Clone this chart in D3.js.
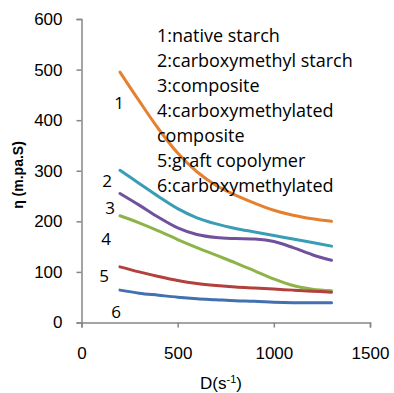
<!DOCTYPE html>
<html><head><meta charset="utf-8">
<script src="https://cdn.jsdelivr.net/npm/d3@7"></script>
<style>body{margin:0;background:#fff}svg{display:block}</style>
</head><body>
<svg id="c" width="394" height="393"></svg>
<script>
const shearRate = [200, 300, 400, 500, 600, 700, 800, 900, 1000, 1100, 1200, 1300];
const s1 = [495, 438, 383, 335, 298, 271, 252, 236, 222, 212, 205, 200];
const s2 = [301, 275, 249, 225, 207, 195, 186, 179, 172, 165, 158, 151];
const s3 = [255, 232, 208, 187, 174, 168, 166, 165, 160, 148, 134, 123];
const s4 = [211, 197, 181, 164, 148, 133, 118, 102, 86, 73, 66, 63];
const s5 = [110, 100, 91, 83, 77, 73, 70, 68, 66, 64, 62, 60];
const s6 = [64, 58, 54, 50, 47, 45, 43, 42, 40, 39, 39, 39];
const seriesNames = ["1","2","3","4","5","6"];
const legendLines = ["1:native starch","2:carboxymethyl  starch","3:composite","4:carboxymethylated","composite","5:graft copolymer","6:carboxymethylated"];
const xTicks = [0, 500, 1000, 1500];
const yTicks = [0, 100, 200, 300, 400, 500, 600];
const colors = ["#E5802E","#3A9DB6","#71519C","#8DB449","#B2403D","#4270B0"];

const svg = d3.select("#c");
const x = d3.scaleLinear().domain([0,1500]).range([81.5,370]);
const y = d3.scaleLinear().domain([0,600]).range([322.5,19]);
const axisColor = "#868686";

const gx = svg.append("g").attr("transform","translate(0,322.5)")
  .call(d3.axisBottom(x).tickValues(xTicks).tickSize(5).tickPadding(19).tickFormat(d3.format("d")));
const gy = svg.append("g").attr("transform","translate(81.5,0)")
  .call(d3.axisLeft(y).tickValues(yTicks).tickSize(5).tickPadding(14).tickFormat(d3.format("d")));
[gx,gy].forEach(g=>{
  g.select(".domain").attr("stroke",axisColor).attr("stroke-width",1.5);
  g.selectAll(".tick line").attr("stroke",axisColor).attr("stroke-width",1.5);
  g.selectAll("text").attr("font-family","'Liberation Sans',Arial,sans-serif").attr("font-size",17).attr("fill","#000");
});

const all = [s1,s2,s3,s4,s5,s6];
const line = d3.line().x((d,i)=>x(shearRate[i])).y(d=>y(d)).curve(d3.curveCatmullRom.alpha(0.5));
all.forEach((s,k)=>{
  svg.append("path").attr("d",line(s)).attr("fill","none")
    .attr("stroke",colors[k]).attr("stroke-width",3).attr("stroke-linecap","round");
});

// curve number labels
const numPos = [[119,103],[107,181],[110,208],[106,239],[104,276],[116,312]];
seriesNames.forEach((n,i)=>{
  svg.append("text").attr("x",numPos[i][0]).attr("y",numPos[i][1]).attr("dy","0.35em")
    .attr("text-anchor","middle").attr("font-family","'Open Sans',sans-serif")
    .attr("font-size",17).text(n);
});

// legend text
legendLines.forEach((t,i)=>{
  svg.append("text").attr("x",157).attr("y",41.7+i*25.05)
    .attr("font-family","'Open Sans',sans-serif").attr("font-size",18)
    .attr("fill","#000").text(t);
});

// axis titles
svg.append("text").attr("transform","translate(23,175) rotate(-90)")
  .attr("text-anchor","middle").attr("font-family","'Liberation Sans',Arial,sans-serif")
  .attr("font-weight","bold").attr("font-size",14).text("η (m.pa.S)");
const xt = svg.append("text").attr("x",221).attr("y",389).attr("text-anchor","middle")
  .attr("font-family","'Liberation Sans',Arial,sans-serif").attr("font-size",17);
xt.append("tspan").text("D(s");
xt.append("tspan").attr("dy",-6).attr("font-size",11).text("-1");
xt.append("tspan").attr("dy",6).text(")");
</script>
</body></html>
